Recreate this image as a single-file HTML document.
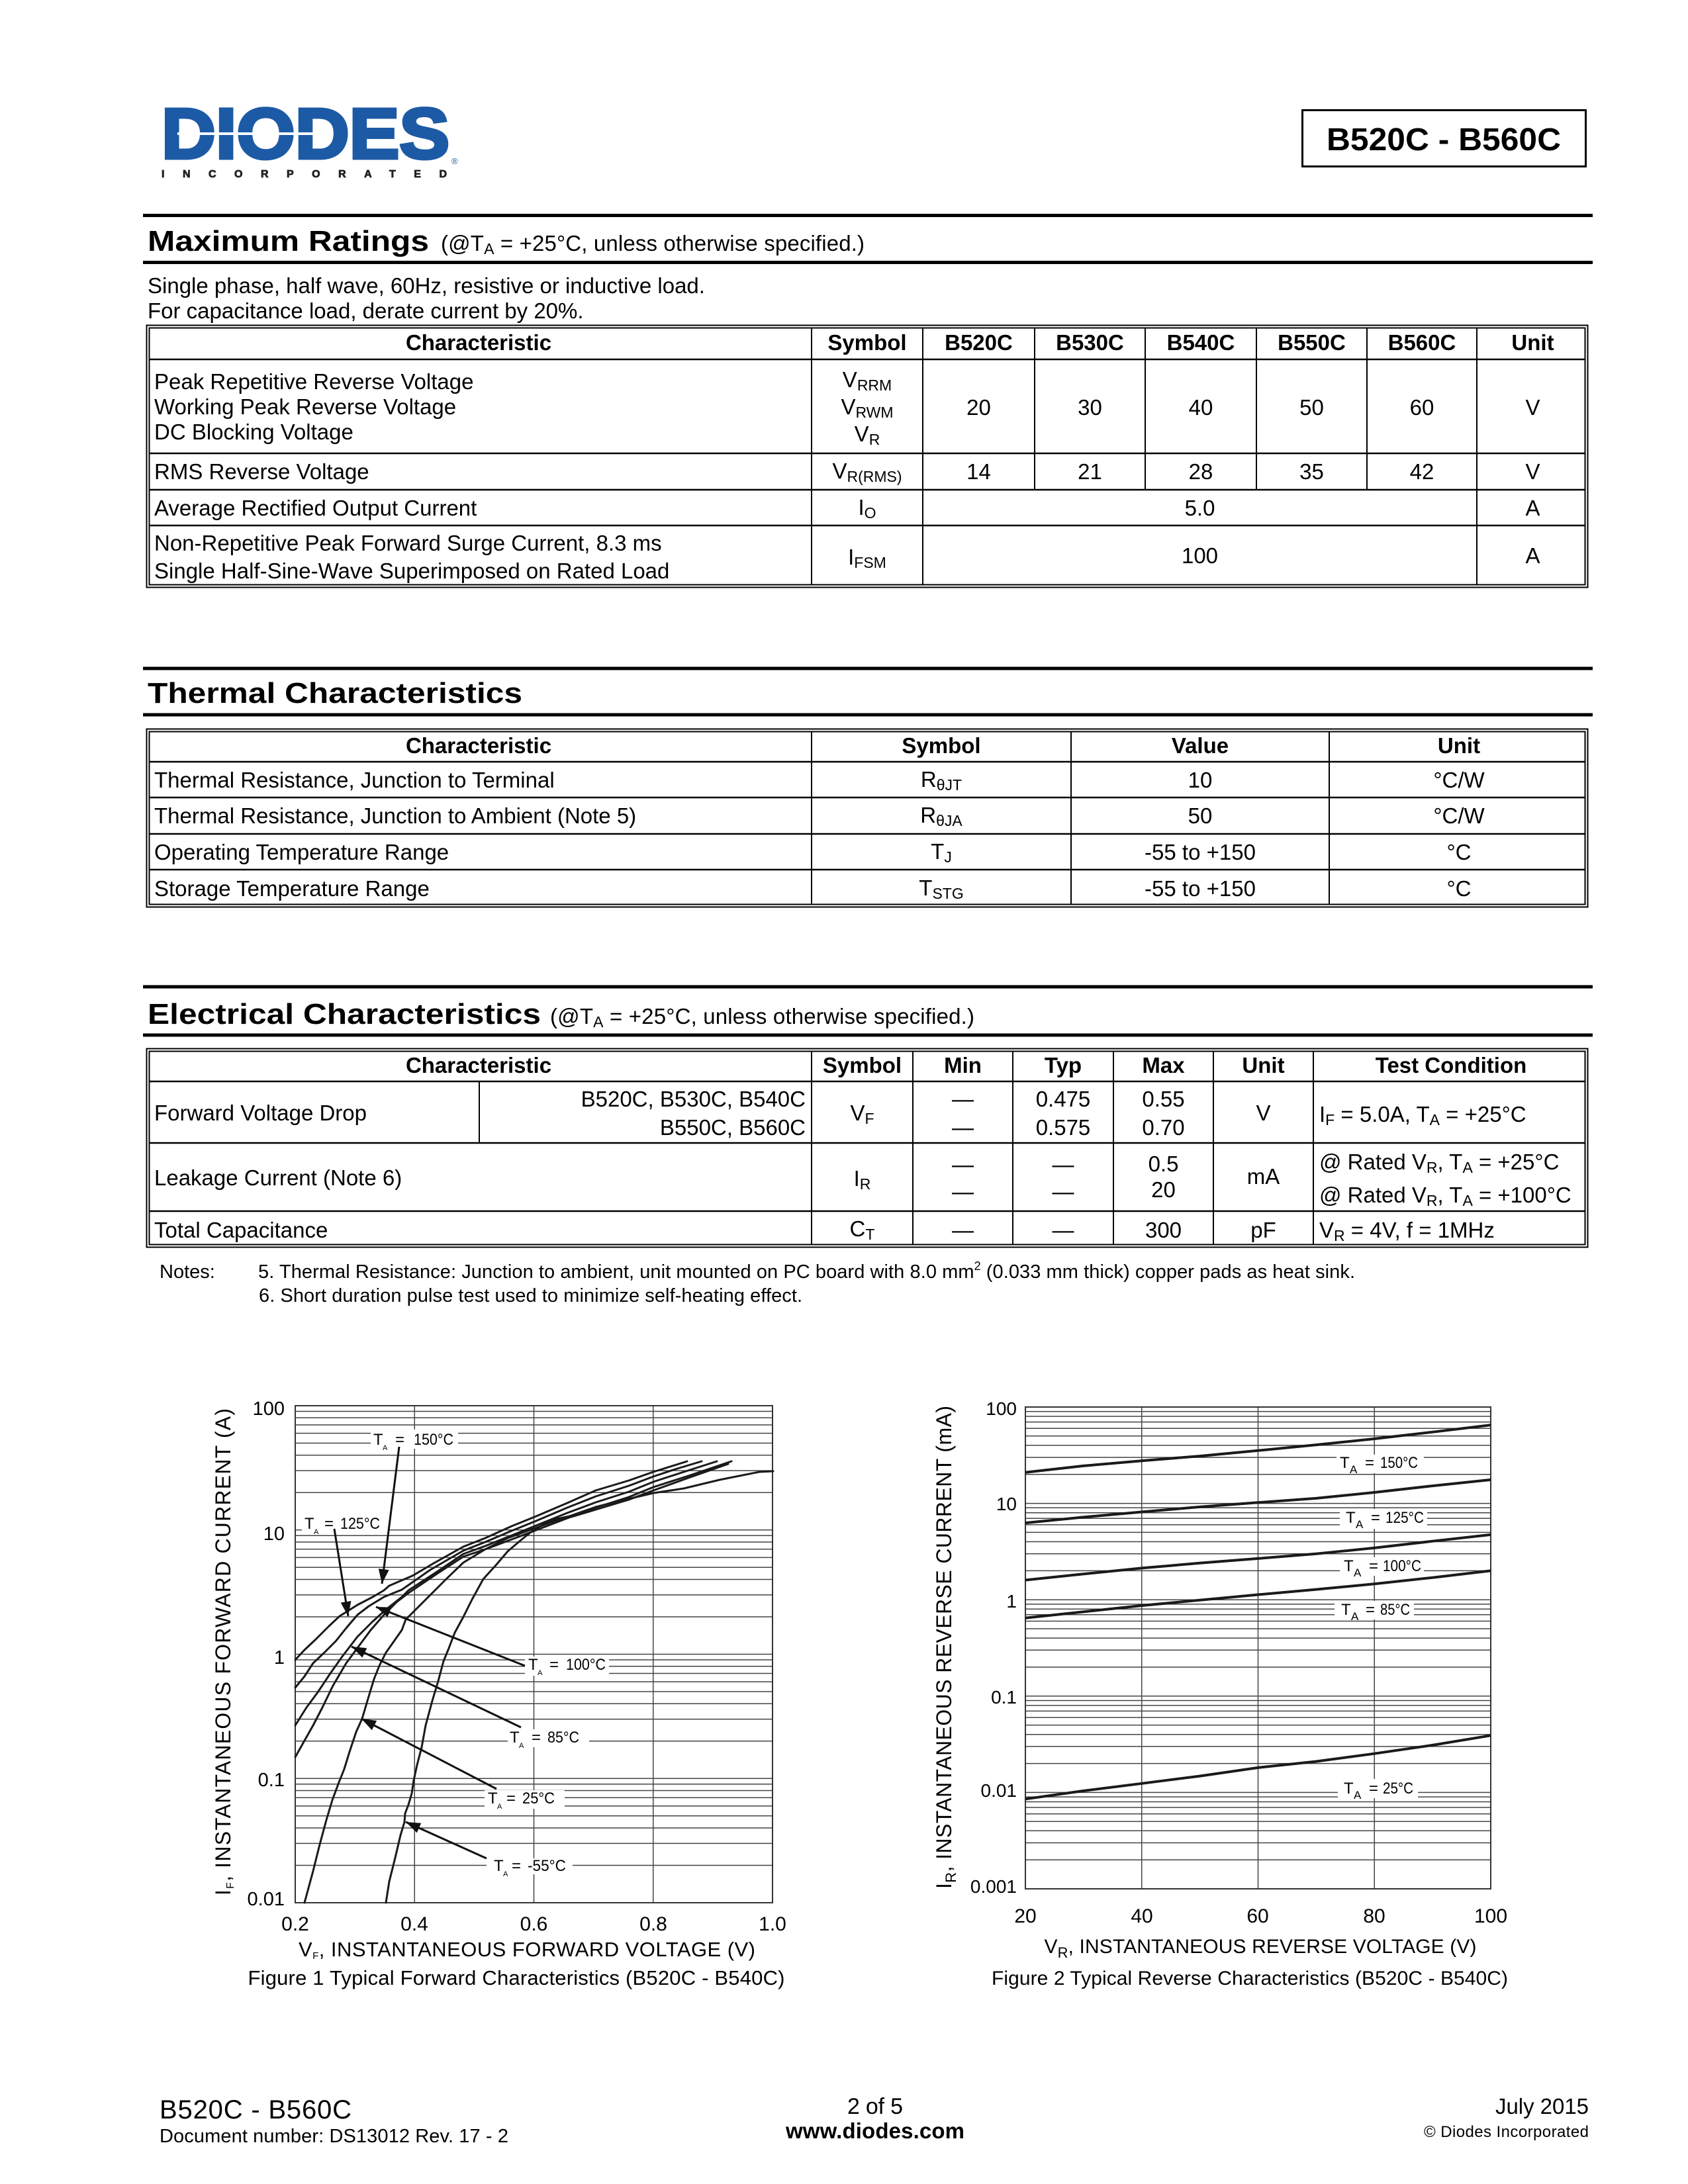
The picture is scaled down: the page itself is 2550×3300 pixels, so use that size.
<!DOCTYPE html>
<html><head><meta charset="utf-8"><title>B520C - B560C</title>
<style>
html,body{margin:0;padding:0;background:#fff}
svg{display:block}
text{font-family:"Liberation Sans",Arial,sans-serif;fill:#000}
</style></head><body>
<svg xmlns="http://www.w3.org/2000/svg" width="2550" height="3300" viewBox="0 0 2550 3300">
<defs>
<marker id="ah" markerWidth="24" markerHeight="18" refX="22" refY="8" orient="auto" markerUnits="userSpaceOnUse"><path d="M0,0 L22,8 L0,16 z" fill="#111"/></marker>
</defs>
<rect width="2550" height="3300" fill="#fff"/>

<!-- Logo -->
<text x="244" y="239" font-size="108" font-weight="bold" textLength="435" lengthAdjust="spacingAndGlyphs" style="fill:#1c5aa5;stroke:#1c5aa5;stroke-width:5">DIODES</text>
<rect x="268" y="200" width="205" height="4" fill="#fff"/>
<text x="244" y="268" font-size="16" font-weight="bold" textLength="431" lengthAdjust="spacing" style="fill:#222;stroke:#222;stroke-width:0.8">INCORPORATED</text>
<text x="682" y="248" font-size="13" style="fill:#1c5aa5">®</text>

<!-- Title box -->
<rect x="1967.5" y="166.5" width="428" height="85" fill="none" stroke="#000" stroke-width="3"/>
<text x="2181" y="227" font-size="48" font-weight="bold" text-anchor="middle" textLength="354" lengthAdjust="spacingAndGlyphs">B520C - B560C</text>

<!-- Maximum Ratings -->
<rect x="216" y="323" width="2190" height="5" fill="#000"/>
<text x="223" y="379" font-size="44" font-weight="bold" textLength="425" lengthAdjust="spacingAndGlyphs">Maximum Ratings</text>
<text x="666" y="379" font-size="33" textLength="640">(@T<tspan font-size="23" dy="5">A</tspan><tspan dy="-5"> = +25°C, unless otherwise specified.)</tspan></text>
<rect x="216" y="394" width="2190" height="5" fill="#000"/>
<text x="223" y="443" font-size="33">Single phase, half wave, 60Hz, resistive or inductive load.</text>
<text x="223" y="481" font-size="33">For capacitance load, derate current by 20%.</text>

<rect x="221.5" y="491.5" width="2177" height="396" fill="none" stroke="#000" stroke-width="2"/>
<rect x="225.5" y="495.5" width="2169" height="388" fill="none" stroke="#000" stroke-width="2"/>
<path d="M226 543H2394 M226 685H2394 M226 740H2394 M226 794H2394" stroke="#000" stroke-width="2.5"/>
<path d="M1226 496V883 M1394 496V883 M2231 496V883 M1563 496V740 M1730 496V740 M1898 496V740 M2065 496V740" stroke="#000" stroke-width="2"/>
<g font-size="33" font-weight="bold" text-anchor="middle">
<text x="723" y="529">Characteristic</text>
<text x="1310" y="529">Symbol</text>
<text x="1478.5" y="529">B520C</text>
<text x="1646.5" y="529">B530C</text>
<text x="1814" y="529">B540C</text>
<text x="1981.5" y="529">B550C</text>
<text x="2148" y="529">B560C</text>
<text x="2315.5" y="529">Unit</text>
</g>
<g font-size="33">
<text x="233" y="588">Peak Repetitive Reverse Voltage</text>
<text x="233" y="626">Working Peak Reverse Voltage</text>
<text x="233" y="664">DC Blocking Voltage</text>
<text x="233" y="724">RMS Reverse Voltage</text>
<text x="233" y="779">Average Rectified Output Current</text>
<text x="233" y="832">Non-Repetitive Peak Forward Surge Current, 8.3 ms</text>
<text x="233" y="874">Single Half-Sine-Wave Superimposed on Rated Load</text>
</g>
<g font-size="33" text-anchor="middle">
<text x="1310" y="585">V<tspan font-size="23" dy="5">RRM</tspan></text>
<text x="1310" y="626">V<tspan font-size="23" dy="5">RWM</tspan></text>
<text x="1310" y="667">V<tspan font-size="23" dy="5">R</tspan></text>
<text x="1478.5" y="627">20</text>
<text x="1646.5" y="627">30</text>
<text x="1814" y="627">40</text>
<text x="1981.5" y="627">50</text>
<text x="2148" y="627">60</text>
<text x="2315.5" y="627">V</text>
<text x="1310" y="723">V<tspan font-size="23" dy="5">R(RMS)</tspan></text>
<text x="1478.5" y="724">14</text>
<text x="1646.5" y="724">21</text>
<text x="1814" y="724">28</text>
<text x="1981.5" y="724">35</text>
<text x="2148" y="724">42</text>
<text x="2315.5" y="724">V</text>
<text x="1310" y="778">I<tspan font-size="23" dy="5">O</tspan></text>
<text x="1812.5" y="779">5.0</text>
<text x="2315.5" y="779">A</text>
<text x="1310" y="853">I<tspan font-size="23" dy="5">FSM</tspan></text>
<text x="1812.5" y="851">100</text>
<text x="2315.5" y="851">A</text>
</g>

<!-- Thermal Characteristics -->
<rect x="216" y="1007.5" width="2190" height="5" fill="#000"/>
<text x="223" y="1062" font-size="44" font-weight="bold" textLength="566" lengthAdjust="spacingAndGlyphs">Thermal Characteristics</text>
<rect x="216" y="1077.5" width="2190" height="5" fill="#000"/>

<rect x="221.5" y="1101.5" width="2177" height="269" fill="none" stroke="#000" stroke-width="2"/>
<rect x="225.5" y="1105.5" width="2169" height="261" fill="none" stroke="#000" stroke-width="2"/>
<path d="M226 1151H2394 M226 1205H2394 M226 1260H2394 M226 1314H2394" stroke="#000" stroke-width="2.5"/>
<path d="M1226 1106V1366 M1618 1106V1366 M2008 1106V1366" stroke="#000" stroke-width="2"/>
<g font-size="33" font-weight="bold" text-anchor="middle">
<text x="723" y="1138">Characteristic</text>
<text x="1422" y="1138">Symbol</text>
<text x="1813" y="1138">Value</text>
<text x="2204" y="1138">Unit</text>
</g>
<g font-size="33">
<text x="233" y="1190">Thermal Resistance, Junction to Terminal</text>
<text x="233" y="1244">Thermal Resistance, Junction to Ambient (Note 5)</text>
<text x="233" y="1299">Operating Temperature Range</text>
<text x="233" y="1354">Storage Temperature Range</text>
</g>
<g font-size="33" text-anchor="middle">
<text x="1422" y="1189">R<tspan font-size="23" dy="5">θJT</tspan></text>
<text x="1422" y="1243">R<tspan font-size="23" dy="5">θJA</tspan></text>
<text x="1422" y="1298">T<tspan font-size="23" dy="5">J</tspan></text>
<text x="1422" y="1353">T<tspan font-size="23" dy="5">STG</tspan></text>
<text x="1813" y="1190">10</text>
<text x="1813" y="1244">50</text>
<text x="1813" y="1299">-55 to +150</text>
<text x="1813" y="1354">-55 to +150</text>
<text x="2204" y="1190">°C/W</text>
<text x="2204" y="1244">°C/W</text>
<text x="2204" y="1299">°C</text>
<text x="2204" y="1354">°C</text>
</g>

<!-- Electrical Characteristics -->
<rect x="216" y="1488.5" width="2190" height="5" fill="#000"/>
<text x="223" y="1547" font-size="44" font-weight="bold" textLength="594" lengthAdjust="spacingAndGlyphs">Electrical Characteristics</text>
<text x="831" y="1547" font-size="33" textLength="641">(@T<tspan font-size="23" dy="5">A</tspan><tspan dy="-5"> = +25°C, unless otherwise specified.)</tspan></text>
<rect x="216" y="1561.5" width="2190" height="5" fill="#000"/>

<rect x="221.5" y="1584.5" width="2177" height="300" fill="none" stroke="#000" stroke-width="2"/>
<rect x="225.5" y="1588.5" width="2169" height="292" fill="none" stroke="#000" stroke-width="2"/>
<path d="M226 1634H2394 M226 1727H2394 M226 1830H2394" stroke="#000" stroke-width="2.5"/>
<path d="M1226 1589V1880 M1379 1589V1880 M1530 1589V1880 M1682 1589V1880 M1833 1589V1880 M1984 1589V1880 M724 1634V1727" stroke="#000" stroke-width="2"/>
<g font-size="33" font-weight="bold" text-anchor="middle">
<text x="723" y="1621">Characteristic</text>
<text x="1302.5" y="1621">Symbol</text>
<text x="1454.5" y="1621">Min</text>
<text x="1606" y="1621">Typ</text>
<text x="1757.5" y="1621">Max</text>
<text x="1908.5" y="1621">Unit</text>
<text x="2192" y="1621">Test Condition</text>
</g>
<g font-size="33">
<text x="233" y="1693">Forward Voltage Drop</text>
<text x="1217" y="1672" text-anchor="end">B520C, B530C, B540C</text>
<text x="1217" y="1715" text-anchor="end">B550C, B560C</text>
<text x="233" y="1791">Leakage Current (Note 6)</text>
<text x="233" y="1870">Total Capacitance</text>
<text x="1993" y="1695">I<tspan font-size="23" dy="5">F</tspan><tspan dy="-5"> = 5.0A, T</tspan><tspan font-size="23" dy="5">A</tspan><tspan dy="-5"> = +25°C</tspan></text>
<text x="1993" y="1767">@ Rated V<tspan font-size="23" dy="5">R</tspan><tspan dy="-5">, T</tspan><tspan font-size="23" dy="5">A</tspan><tspan dy="-5"> = +25°C</tspan></text>
<text x="1993" y="1817">@ Rated V<tspan font-size="23" dy="5">R</tspan><tspan dy="-5">, T</tspan><tspan font-size="23" dy="5">A</tspan><tspan dy="-5"> = +100°C</tspan></text>
<text x="1993" y="1870">V<tspan font-size="23" dy="5">R</tspan><tspan dy="-5"> = 4V, f = 1MHz</tspan></text>
</g>
<g font-size="33" text-anchor="middle">
<text x="1302.5" y="1693">V<tspan font-size="23" dy="5">F</tspan></text>
<text x="1454.5" y="1672">—</text>
<text x="1454.5" y="1715">—</text>
<text x="1606" y="1672">0.475</text>
<text x="1606" y="1715">0.575</text>
<text x="1757.5" y="1672">0.55</text>
<text x="1757.5" y="1715">0.70</text>
<text x="1908.5" y="1693">V</text>
<text x="1302.5" y="1792">I<tspan font-size="23" dy="5">R</tspan></text>
<text x="1454.5" y="1771">—</text>
<text x="1454.5" y="1812">—</text>
<text x="1606" y="1771">—</text>
<text x="1606" y="1812">—</text>
<text x="1757.5" y="1770">0.5</text>
<text x="1757.5" y="1809">20</text>
<text x="1908.5" y="1789">mA</text>
<text x="1302.5" y="1868">C<tspan font-size="23" dy="5">T</tspan></text>
<text x="1454.5" y="1870">—</text>
<text x="1606" y="1870">—</text>
<text x="1757.5" y="1870">300</text>
<text x="1908.5" y="1870">pF</text>
</g>

<!-- Notes -->
<g font-size="29">
<text x="241" y="1931">Notes:</text>
<text x="390" y="1931" textLength="1657">5. Thermal Resistance: Junction to ambient, unit mounted on PC board with 8.0 mm<tspan font-size="18" dy="-12">2</tspan><tspan dy="12"> (0.033 mm thick) copper pads as heat sink.</tspan></text>
<text x="391" y="1967" textLength="821">6. Short duration pulse test used to minimize self-heating effect.</text>
</g>

<!-- ================= FIGURE 1 ================= -->
<path fill="none" stroke="#444" stroke-width="1.5" d="
M446 2818.5H1167 M446 2785.4H1167 M446 2762H1167 M446 2743.8H1167 M446 2728.9H1167 M446 2716.3H1167 M446 2705.5H1167 M446 2695.8H1167 M446 2687.25H1167
M446 2630.75H1167 M446 2597.65H1167 M446 2574.25H1167 M446 2556.05H1167 M446 2541.15H1167 M446 2528.55H1167 M446 2517.75H1167 M446 2508.05H1167 M446 2499.5H1167
M446 2443H1167 M446 2409.9H1167 M446 2386.5H1167 M446 2368.3H1167 M446 2353.4H1167 M446 2340.8H1167 M446 2330H1167 M446 2320.3H1167 M446 2311.75H1167
M446 2255.25H1167 M446 2222.15H1167 M446 2198.75H1167 M446 2180.55H1167 M446 2165.65H1167 M446 2153.05H1167 M446 2142.25H1167 M446 2132.55H1167
M626.25 2124V2875 M806.5 2124V2875 M986.75 2124V2875"/>
<rect x="446" y="2124" width="721" height="751" fill="none" stroke="#333" stroke-width="2"/>

<!-- label boxes -->
<g fill="#fff">
<rect x="560" y="2160" width="132" height="29"/>
<rect x="456" y="2287" width="130" height="28"/>
<rect x="793" y="2503" width="127" height="29"/>
<rect x="767" y="2613" width="123" height="27"/>
<rect x="732" y="2705" width="121" height="28"/>
<rect x="735" y="2808" width="130" height="24"/>
</g>

<!-- curves -->
<g fill="none" stroke="#1a1a1a" stroke-width="3" stroke-linejoin="round" stroke-linecap="round">
<polyline points="446,2508 460,2493 477,2477 497,2457 513,2442 540,2425 563,2413 580,2403 588,2396 623,2381 657,2361 700,2337 733,2324 773,2306 810,2291 857,2271 900,2252 950,2237 987,2224 1038,2208"/>
<polyline points="446,2550 460,2533 473,2513 490,2497 507,2480 523,2460 540,2440 557,2427 580,2413 607,2402 650,2372 700,2343 733,2330 773,2313 810,2298 857,2278 900,2261 950,2245 987,2231 1020,2220 1060,2208"/>
<polyline points="446,2607 463,2580 480,2557 500,2527 517,2503 540,2473 563,2450 583,2432 607,2413 617,2403 660,2375 700,2348 733,2336 773,2320 810,2305 857,2286 900,2270 950,2254 987,2239 1030,2225 1083,2208"/>
<polyline points="446,2655 460,2630 473,2607 487,2580 503,2547 523,2513 540,2490 560,2463 580,2440 600,2420 617,2407 660,2378 700,2352 733,2341 773,2326 810,2312 857,2294 900,2278 950,2262 987,2247 1040,2230 1105,2208"/>
<polyline points="460,2875 473,2827 483,2787 493,2750 502,2720 512,2693 520,2673 528,2647 538,2617 547,2597 555,2570 565,2537 573,2517 583,2497 593,2483 607,2463 613,2447 627,2433 640,2420 657,2403 675,2385 700,2361 733,2341 767,2324 800,2312 833,2300 870,2290 900,2281 950,2266 987,2252 1040,2233 1100,2212"/>
<polyline points="583,2875 588,2843 597,2807 605,2773 611,2753 612,2740 617,2727 622,2710 625,2690 630,2667 637,2640 643,2607 653,2570 662,2540 670,2510 677,2493 687,2467 700,2443 713,2417 730,2386 750,2364 767,2344 787,2327 807,2311 833,2297 860,2291 900,2277 940,2267 987,2256 1033,2249 1087,2236 1147,2224 1168,2223"/>
</g>

<!-- arrows -->
<g stroke="#111" stroke-width="3" marker-end="url(#ah)">
<line x1="603" y1="2186" x2="577" y2="2393"/>
<line x1="505" y1="2310" x2="526" y2="2442"/>
<line x1="793" y1="2517" x2="568" y2="2428"/>
<line x1="787" y1="2610" x2="531" y2="2488"/>
<line x1="750" y1="2703" x2="546" y2="2597"/>
<line x1="735" y1="2808" x2="613" y2="2753"/>
</g>

<!-- labels fig1 -->
<g font-size="24">
<text x="564" y="2183">T</text><text x="578" y="2191" font-size="11">A</text><text x="597" y="2183">=</text><text x="625" y="2183" textLength="60" lengthAdjust="spacingAndGlyphs">150°C</text>
<text x="460" y="2310">T</text><text x="474" y="2318" font-size="11">A</text><text x="490" y="2310">=</text><text x="514" y="2310" textLength="60" lengthAdjust="spacingAndGlyphs">125°C</text>
<text x="798" y="2523">T</text><text x="812" y="2531" font-size="11">A</text><text x="830" y="2523">=</text><text x="855" y="2523" textLength="60" lengthAdjust="spacingAndGlyphs">100°C</text>
<text x="770" y="2633">T</text><text x="784" y="2641" font-size="11">A</text><text x="803" y="2633">=</text><text x="827" y="2633" textLength="48" lengthAdjust="spacingAndGlyphs">85°C</text>
<text x="737" y="2725">T</text><text x="751" y="2733" font-size="11">A</text><text x="765" y="2725">=</text><text x="789" y="2725" textLength="49" lengthAdjust="spacingAndGlyphs">25°C</text>
<text x="746" y="2827">T</text><text x="760" y="2835" font-size="11">A</text><text x="773" y="2827">=</text><text x="797" y="2827" textLength="58" lengthAdjust="spacingAndGlyphs">-55°C</text>
</g>

<!-- ticks fig1 -->
<g font-size="29" text-anchor="end">
<text x="430" y="2138">100</text>
<text x="430" y="2327">10</text>
<text x="430" y="2514">1</text>
<text x="430" y="2699">0.1</text>
<text x="430" y="2879">0.01</text>
</g>
<g font-size="30" text-anchor="middle">
<text x="446" y="2917">0.2</text>
<text x="626" y="2917">0.4</text>
<text x="806.5" y="2917">0.6</text>
<text x="987" y="2917">0.8</text>
<text x="1167" y="2917">1.0</text>
</g>
<text x="796" y="2956" font-size="31" text-anchor="middle" textLength="690">V<tspan font-size="15" dy="4">F</tspan><tspan dy="-4">, INSTANTANEOUS FORWARD VOLTAGE (V)</tspan></text>
<text x="780" y="2999" font-size="31" text-anchor="middle" textLength="811">Figure 1 Typical Forward Characteristics (B520C - B540C)</text>
<text transform="translate(348,2496) rotate(-90)" font-size="32" text-anchor="middle" textLength="736">I<tspan font-size="16" dy="5">F</tspan><tspan dy="-5">, INSTANTANEOUS FORWARD CURRENT (A)</tspan></text>

<!-- ================= FIGURE 2 ================= -->
<path fill="none" stroke="#444" stroke-width="1.5" d="
M1549 2810.2H2252 M1549 2784.5H2252 M1549 2766.3H2252 M1549 2752.2H2252 M1549 2740.7H2252 M1549 2731H2252 M1549 2722.5H2252 M1549 2715.1H2252 M1549 2708.4H2252
M1549 2664.6H2252 M1549 2638.9H2252 M1549 2620.7H2252 M1549 2606.6H2252 M1549 2595.1H2252 M1549 2585.4H2252 M1549 2576.9H2252 M1549 2569.5H2252 M1549 2562.8H2252
M1549 2519H2252 M1549 2493.3H2252 M1549 2475.1H2252 M1549 2461H2252 M1549 2449.5H2252 M1549 2439.8H2252 M1549 2431.3H2252 M1549 2423.9H2252 M1549 2417.2H2252
M1549 2373.4H2252 M1549 2347.7H2252 M1549 2329.5H2252 M1549 2315.4H2252 M1549 2303.9H2252 M1549 2294.2H2252 M1549 2285.7H2252 M1549 2278.3H2252 M1549 2271.6H2252
M1549 2227.8H2252 M1549 2202.1H2252 M1549 2183.9H2252 M1549 2169.8H2252 M1549 2158.3H2252 M1549 2148.6H2252 M1549 2140.1H2252 M1549 2132.7H2252
M1724.75 2126V2854 M1900.5 2126V2854 M2076.25 2126V2854"/>
<rect x="1549" y="2126" width="703" height="728" fill="none" stroke="#333" stroke-width="2"/>

<g fill="#fff">
<rect x="2019" y="2198" width="132" height="28"/>
<rect x="2024" y="2280" width="132" height="30"/>
<rect x="2024" y="2353" width="127" height="28"/>
<rect x="2016" y="2419" width="120" height="28"/>
<rect x="2021" y="2688" width="121" height="29"/>
</g>

<g fill="none" stroke="#1a1a1a" stroke-width="4" stroke-linejoin="round">
<polyline points="1549,2224.7 1636.9,2214.9 1724.75,2207.2 1812.6,2200.1 1900.5,2191.8 1988.4,2183.1 2076.25,2174 2164.1,2163.8 2252,2153.2"/>
<polyline points="1549,2301.1 1636.9,2292.4 1724.75,2284.5 1812.6,2276.9 1900.5,2270.3 1988.4,2263.9 2076.25,2255 2164.1,2245.1 2252,2235.9"/>
<polyline points="1549,2387.5 1636.9,2378.3 1724.75,2369.4 1812.6,2361.8 1900.5,2354.9 1988.4,2347.7 2076.25,2338.9 2164.1,2328.7 2252,2318.9"/>
<polyline points="1549,2444.8 1636.9,2435.4 1724.75,2426 1812.6,2417.8 1900.5,2409.5 1988.4,2401.6 2076.25,2393.3 2164.1,2383.7 2252,2373.4"/>
<polyline points="1549,2718.3 1636.9,2705.9 1724.75,2694.8 1812.6,2683.6 1900.5,2670.9 1988.4,2661.5 2076.25,2649.7 2164.1,2636.9 2252,2622.3"/>
</g>

<g font-size="24">
<text x="2024" y="2218">T</text><text x="2039" y="2226" font-size="17">A</text><text x="2062" y="2218">=</text><text x="2085" y="2218" textLength="57" lengthAdjust="spacingAndGlyphs">150°C</text>
<text x="2033" y="2301">T</text><text x="2048" y="2309" font-size="17">A</text><text x="2071" y="2301">=</text><text x="2093" y="2301" textLength="58" lengthAdjust="spacingAndGlyphs">125°C</text>
<text x="2030" y="2374">T</text><text x="2045" y="2382" font-size="17">A</text><text x="2068" y="2374">=</text><text x="2089" y="2374" textLength="58" lengthAdjust="spacingAndGlyphs">100°C</text>
<text x="2026" y="2440">T</text><text x="2041" y="2448" font-size="17">A</text><text x="2063" y="2440">=</text><text x="2085" y="2440" textLength="45" lengthAdjust="spacingAndGlyphs">85°C</text>
<text x="2030" y="2710">T</text><text x="2045" y="2718" font-size="17">A</text><text x="2068" y="2710">=</text><text x="2089" y="2710" textLength="46" lengthAdjust="spacingAndGlyphs">25°C</text>
</g>

<g font-size="28" text-anchor="end">
<text x="1536" y="2138">100</text>
<text x="1536" y="2282">10</text>
<text x="1536" y="2429">1</text>
<text x="1536" y="2574">0.1</text>
<text x="1536" y="2715">0.01</text>
<text x="1536" y="2860">0.001</text>
</g>
<g font-size="30" text-anchor="middle">
<text x="1549" y="2905">20</text>
<text x="1725" y="2905">40</text>
<text x="1900" y="2905">60</text>
<text x="2076" y="2905">80</text>
<text x="2252" y="2905">100</text>
</g>
<text x="1904" y="2951" font-size="30" text-anchor="middle" textLength="653">V<tspan font-size="22" dy="7">R</tspan><tspan dy="-7">, INSTANTANEOUS REVERSE VOLTAGE (V)</tspan></text>
<text x="1888" y="2999" font-size="30" text-anchor="middle" textLength="780">Figure 2 Typical Reverse Characteristics (B520C - B540C)</text>
<text transform="translate(1437,2489) rotate(-90)" font-size="32" text-anchor="middle" textLength="730">I<tspan font-size="22" dy="7">R</tspan><tspan dy="-7">, INSTANTANEOUS REVERSE CURRENT (mA)</tspan></text>

<!-- Footer -->
<text x="241" y="3201" font-size="40" textLength="290">B520C - B560C</text>
<text x="241" y="3237" font-size="29" textLength="527">Document number: DS13012 Rev. 17 - 2</text>
<text x="1322" y="3194" font-size="34" text-anchor="middle" textLength="84">2 of 5</text>
<text x="1322" y="3231" font-size="33" font-weight="bold" text-anchor="middle" textLength="270">www.diodes.com</text>
<text x="2400" y="3194" font-size="33" text-anchor="end" textLength="141">July 2015</text>
<text x="2400" y="3229" font-size="24" text-anchor="end" textLength="249">© Diodes Incorporated</text>
</svg>
</body></html>
